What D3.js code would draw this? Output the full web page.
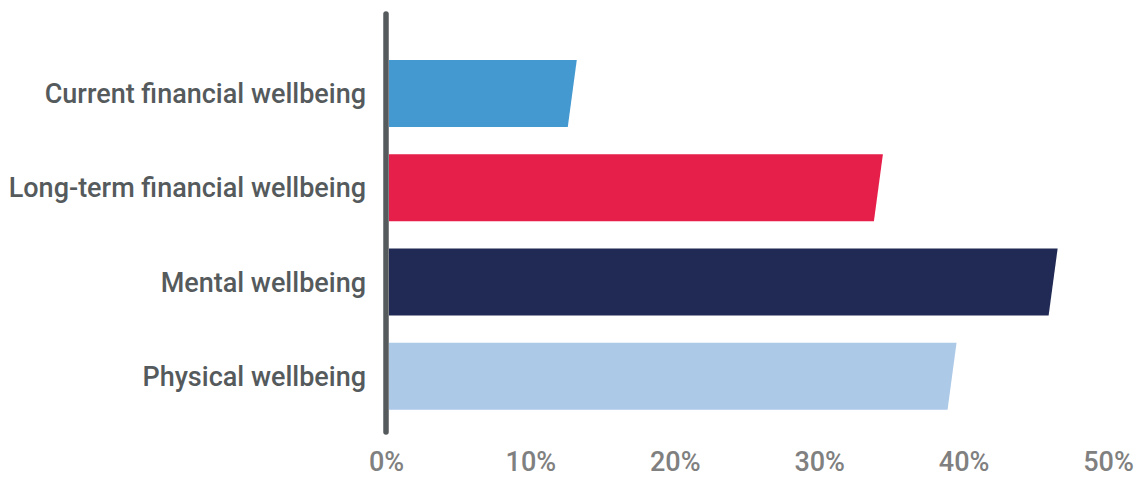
<!DOCTYPE html>
<html><head><meta charset="utf-8">
<script src="https://cdn.jsdelivr.net/npm/d3@7"></script>
<style>body{margin:0;background:#fff}svg{display:block}</style>
</head><body><svg id="c" width="1141" height="477"></svg>
<script>
const categories = ["Current financial wellbeing","Long-term financial wellbeing","Mental wellbeing","Physical wellbeing"];
const values = [12.9, 34.1, 46.2, 39.2];
const colors = ["#4499d0","#e61e4a","#212a55","#adc9e8"];
const ticks = [0,10,20,30,40,50];

const svg = d3.select("#c");
const x = d3.scaleLinear().domain([0,50]).range([386,1108]);
const y = d3.scaleBand().domain(categories).range([46.3,423.5]).paddingInner(0.29).paddingOuter(0.145);
const slant = 4.5;

svg.selectAll("path.bar").data(categories).join("path").attr("class","bar")
  .attr("fill",(d,i)=>colors[i])
  .attr("d",(d,i)=>{
    const x0 = x(0)+3, xv = x(values[i]), t = y(d), b = y(d)+y.bandwidth();
    return `M${x0},${t}L${xv+slant},${t}L${xv-slant},${b}L${x0},${b}Z`;
  });

svg.append("line").attr("x1",x(0)).attr("x2",x(0)).attr("y1",14).attr("y2",432)
  .attr("stroke","#555a5c").attr("stroke-width",5.5).attr("stroke-linecap","round");

const xAxis = d3.axisBottom(x).tickValues(ticks).tickFormat(d=>d+"%").tickSize(0).tickPadding(0);
const gx = svg.append("g").attr("transform","translate(0,470.5)").call(xAxis);
gx.select(".domain").remove();
gx.selectAll("text").attr("fill","#808080").attr("font-family","Roboto").attr("font-size",27).attr("font-weight",500).attr("dy","0");

const yAxis = d3.axisLeft(y).tickSize(0).tickPadding(0);
const gy = svg.append("g").attr("transform","translate(366,0)").call(yAxis);
gy.select(".domain").remove();
gy.selectAll("text").attr("fill","#555a5c").attr("font-family","Roboto").attr("font-size",27).attr("font-weight",500).attr("dy","0.35em");
</script></body></html>
